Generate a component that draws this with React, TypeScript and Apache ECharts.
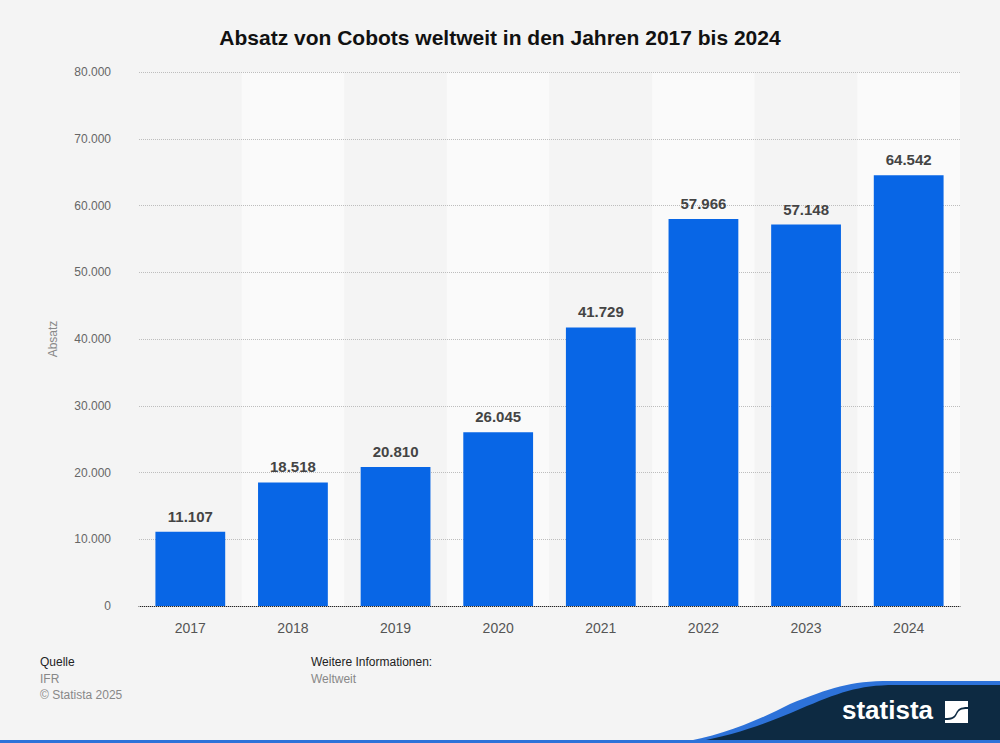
import React, { useEffect, useRef } from "react";
import * as echarts from "echarts";

const categories = ["2017", "2018", "2019", "2020", "2021", "2022", "2023", "2024"];
const values = [11107, 18518, 20810, 26045, 41729, 57966, 57148, 64542];
const yTicks = { min: 0, max: 80000, interval: 10000 };

const fmt = (v: number) => String(Math.round(v)).replace(/\B(?=(\d{3})+(?!\d))/g, ".");

echarts.graphic.registerShape(
  "blueWave",
  echarts.graphic.extendPath("M678,743 C720,736 755,722 790,704 C830,688 850,681 890,681 L1000,681 L1000,743 Z", {})
);
echarts.graphic.registerShape(
  "navyWave",
  echarts.graphic.extendPath("M692,743 C740,734 770,722 800,709 C838,693 858,685 895,685 L1000,685 L1000,743 Z", {})
);
echarts.graphic.registerShape(
  "logoIcon",
  echarts.graphic.extendPath(
    "M0,0 L23,0 L23,6 C15,6 13,8 11,12 C9,16 7,17 0,17 Z M23,22 L0,22 L0,19 C8,19 10,17 12,13 C14,9 16,8 23,8 Z",
    {}
  )
);

const FONT = "Liberation Sans, Arial, sans-serif";

export default function App() {
  const ref = useRef<HTMLDivElement>(null);
  useEffect(() => {
    if (!ref.current) return;
    const chart = echarts.init(ref.current, undefined, { renderer: "svg" });
    chart.setOption({
      animation: false,
      backgroundColor: "#f4f4f4",
      title: {
        text: "Absatz von Cobots weltweit in den Jahren 2017 bis 2024",
        left: "center",
        top: 22,
        textStyle: { fontFamily: FONT, fontSize: 21, fontWeight: "bold", color: "#111" },
      },
      grid: { left: 139, right: 40, top: 72, bottom: 137 },
      xAxis: {
        type: "category",
        data: categories,
        z: 0,
        axisLine: { lineStyle: { color: "#222", width: 1 } },
        axisTick: { show: false },
        axisLabel: { color: "#555", fontSize: 14, margin: 15, fontFamily: FONT },
        splitArea: { show: true, areaStyle: { color: ["#f4f4f4", "#fafafa"] } },
      },
      yAxis: {
        type: "value",
        z: 1,
        min: yTicks.min,
        max: yTicks.max,
        interval: yTicks.interval,
        name: "Absatz",
        nameLocation: "middle",
        nameGap: 80,
        nameTextStyle: { color: "#888", fontSize: 12, fontFamily: FONT },
        axisLine: { show: false },
        axisTick: { show: false },
        axisLabel: { color: "#666", fontSize: 12, margin: 28, formatter: (v: number) => fmt(v), fontFamily: FONT },
        splitLine: { lineStyle: { color: "#bdbdbd", type: [1, 1], width: 1 } },
      },
      series: [
        {
          type: "bar",
          data: values,
          barWidth: "68%",
          z: 2,
          itemStyle: { color: "#0866e6" },
          label: {
            show: true,
            position: "top",
            distance: 8,
            formatter: (p: any) => fmt(p.value),
            color: "#444",
            fontSize: 15,
            fontWeight: "bold",
            fontFamily: FONT,
          },
        },
      ],
      graphic: [
        { type: "text", left: 40, top: 656, style: { text: "Quelle", fill: "#222", fontSize: 12, fontFamily: FONT } },
        { type: "text", left: 40, top: 673, style: { text: "IFR", fill: "#888", fontSize: 12, fontFamily: FONT } },
        { type: "text", left: 40, top: 689, style: { text: "© Statista 2025", fill: "#888", fontSize: 12, fontFamily: FONT } },
        { type: "text", left: 311, top: 656, style: { text: "Weitere Informationen:", fill: "#222", fontSize: 12, fontFamily: FONT } },
        { type: "text", left: 311, top: 673, style: { text: "Weltweit", fill: "#888", fontSize: 12, fontFamily: FONT } },
        { type: "blueWave", x: 0, y: 0, style: { fill: "#2d72d9" } },
        { type: "navyWave", x: 0, y: 0, style: { fill: "#0d2a42" } },
        { type: "rect", shape: { x: 0, y: 740, width: 1000, height: 3 }, style: { fill: "#2d72d9" } },
        {
          type: "text",
          left: 842,
          top: 697,
          style: { text: "statista", fill: "#ffffff", fontSize: 26, fontWeight: "bold", fontFamily: FONT },
        },
        { type: "logoIcon", x: 945, y: 701, style: { fill: "#ffffff" } },
      ],
    });
    return () => chart.dispose();
  }, []);
  return <div ref={ref} style={{ position: "fixed", left: 0, top: 0, width: 1000, height: 743 }} />;
}
